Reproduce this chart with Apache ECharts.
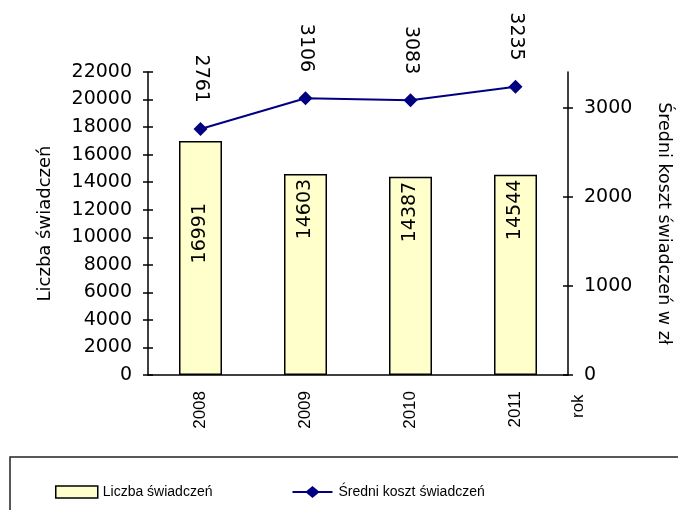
<!DOCTYPE html>
<html>
<head>
<meta charset="utf-8">
<script src="https://cdn.jsdelivr.net/npm/echarts@6/dist/echarts.min.js"></script>
<style>
  html, body { margin: 0; padding: 0; background: #fff; }
  #chart { width: 678px; height: 510px; }
</style>
</head>
<body>
<div id="chart"></div>
<script>
const years = ['2008', '2009', '2010', '2011'];
const liczbaSwiadczen = [16991, 14603, 14387, 14544];
const sredniKoszt = [2761, 3106, 3083, 3235];
const leftTicks = [0, 2000, 4000, 6000, 8000, 10000, 12000, 14000, 16000, 18000, 20000, 22000];
const rightTicks = [0, 1000, 2000, 3000];

const chart = echarts.init(document.getElementById('chart'));

const axisFont = 'DejaVu Sans';
const black = '#000';
const plain = v => String(v);
// ikona legendy: linia z rombem
const lineDiamondIcon = 'path://M0,5L14,5L20,0L26,5L40,5L40,7L26,7L20,12L14,7L0,7Z';

// etykiety słupków - pierwsza niżej, jak w oryginale
const barData = liczbaSwiadczen.map((v, i) => ({
  value: v,
  label: i === 0 ? { distance: 62 } : undefined
}));

const option = {
  animation: false,
  grid: { left: 148, right: 110, top: 72, bottom: 135, outerBoundsMode: 'none' },
  legend: {
    left: 50,
    top: 480,
    itemWidth: 42,
    itemHeight: 12,
    itemGap: 80,
    textStyle: { fontFamily: 'Liberation Sans', fontSize: 14, color: black },
    data: [
      { name: 'Liczba świadczeń', icon: 'rect', itemStyle: { borderWidth: 1.5 } },
      { name: 'Średni koszt świadczeń', icon: lineDiamondIcon }
    ]
  },
  graphic: [
    {
      type: 'rect',
      shape: { x: 10, y: 457, width: 700, height: 80 },
      style: { fill: 'none', stroke: '#222', lineWidth: 1.5 }
    },
    {
      type: 'text',
      x: 578,
      y: 418,
      rotation: Math.PI / 2,
      style: { text: 'rok', fontFamily: 'Liberation Sans', fontSize: 17, fill: black, verticalAlign: 'middle' }
    }
  ],
  xAxis: {
    type: 'category',
    data: years,
    axisLine: { lineStyle: { color: black, width: 1.5 } },
    axisTick: { length: 6, lineStyle: { color: black, width: 1.5 } },
    axisLabel: { rotate: 90, margin: 16, fontFamily: 'Liberation Sans', fontSize: 17, color: black }
  },
  yAxis: [
    {
      type: 'value',
      position: 'left',
      min: 0,
      max: 22000,
      interval: 2000,
      name: 'Liczba świadczeń',
      nameLocation: 'middle',
      nameGap: 94,
      nameTextStyle: { fontFamily: axisFont, fontSize: 18, color: black },
      splitLine: { show: false },
      axisLine: { show: true, lineStyle: { color: black, width: 1.5 } },
      axisTick: { show: true, length: 5, lineStyle: { color: black, width: 1.5 } },
      axisLabel: { margin: 16, formatter: plain, fontFamily: axisFont, fontSize: 19, color: black }
    },
    {
      type: 'value',
      position: 'right',
      min: 0,
      max: 3400,
      interval: 1000,
      name: 'Średni koszt świadczeń w zł',
      nameLocation: 'middle',
      nameGap: 87,
      nameRotate: -90,
      nameTextStyle: { fontFamily: axisFont, fontSize: 17.5, color: black },
      splitLine: { show: false },
      axisLine: { show: true, lineStyle: { color: black, width: 1.5 } },
      axisTick: { show: true, length: 5, customValues: rightTicks, lineStyle: { color: black, width: 1.5 } },
      axisLabel: { margin: 16, customValues: rightTicks, formatter: plain, fontFamily: axisFont, fontSize: 19, color: black }
    },
    // osie pomocnicze - kreski do wewnątrz
    {
      type: 'value',
      position: 'left',
      min: 0,
      max: 22000,
      interval: 2000,
      splitLine: { show: false },
      axisLine: { show: false },
      axisLabel: { show: false },
      axisTick: { show: true, inside: true, length: 5, customValues: leftTicks, lineStyle: { color: black, width: 1.5 } }
    },
    {
      type: 'value',
      position: 'right',
      min: 0,
      max: 3400,
      interval: 1000,
      splitLine: { show: false },
      axisLine: { show: false },
      axisLabel: { show: false },
      axisTick: { show: true, inside: true, length: 5, customValues: rightTicks, lineStyle: { color: black, width: 1.5 } }
    }
  ],
  series: [
    {
      name: 'Liczba świadczeń',
      type: 'bar',
      yAxisIndex: 0,
      barWidth: 43,
      data: barData,
      itemStyle: { color: '#FFFFCC', borderColor: black, borderWidth: 1.5 },
      label: {
        show: true,
        position: 'insideTop',
        distance: 5,
        rotate: 90,
        align: 'right',
        verticalAlign: 'middle',
        fontFamily: axisFont,
        fontSize: 19,
        color: black
      }
    },
    {
      name: 'Średni koszt świadczeń',
      type: 'line',
      yAxisIndex: 1,
      data: sredniKoszt,
      symbol: 'diamond',
      symbolSize: 14,
      lineStyle: { color: '#000080', width: 2 },
      itemStyle: { color: '#000080' },
      label: {
        show: true,
        position: 'top',
        distance: 19,
        rotate: -90,
        align: 'right',
        verticalAlign: 'middle',
        fontFamily: axisFont,
        fontSize: 19,
        color: black
      }
    }
  ]
};

chart.setOption(option);
</script>
</body>
</html>
